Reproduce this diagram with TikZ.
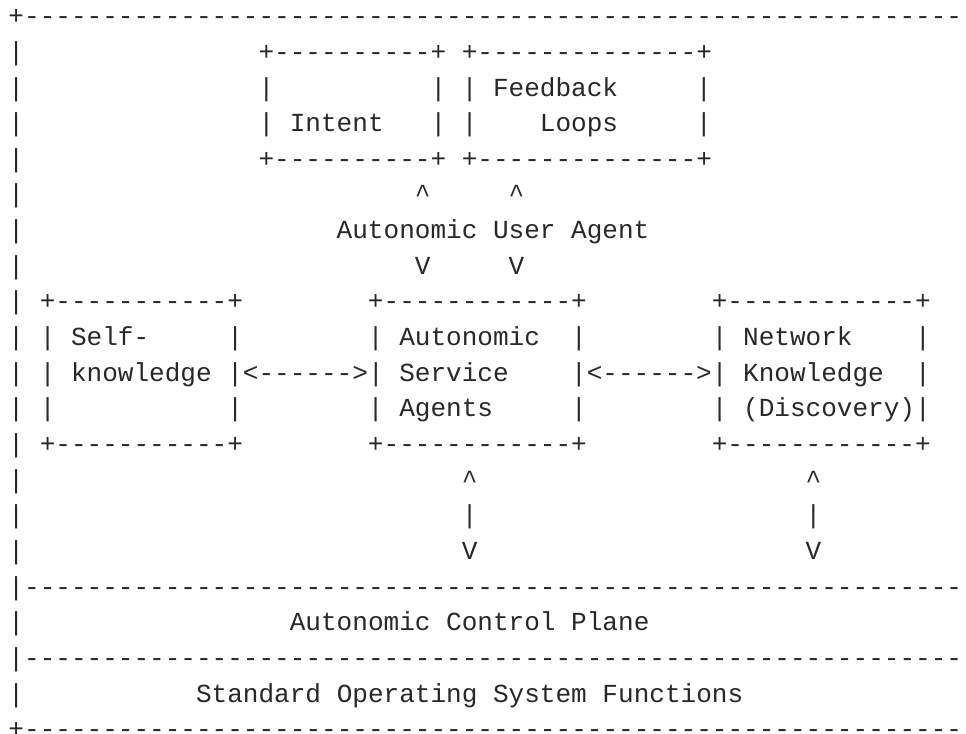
\documentclass[tikz,border=0pt]{standalone}
\usepackage{fontspec}
\setmonofont{Liberation Mono}
\definecolor{ink}{RGB}{40,40,40}
\newcommand\ascii[4]{\node[txt] (#1) at ({6.375+#2*11.7225},{-18.5625-#3*26.7375}) {#4};}
\begin{document}
\begin{tikzpicture}[x=1pt,y=1pt,
  txt/.style={anchor=base west, inner sep=0pt, outer sep=0pt,
    font=\ttfamily\fontsize{19.54pt}{19.54pt}\selectfont, text=ink}]
\useasboundingbox[fill=white] (0,0) rectangle (724.5,-550.5);
% outer frame and layer separators
\ascii{topline}{0}{0}{+------------------------------------------------------------}
\ascii{sepA}{0}{16}{|------------------------------------------------------------}
\ascii{sepB}{0}{18}{|------------------------------------------------------------}
\ascii{botline}{0}{20}{+------------------------------------------------------------}
\foreach \r in {1,...,15,17,19} {\ascii{left\r}{0}{\r}{|}}
% Intent and Feedback Loops
\ascii{intentT}{16}{1}{+----------+}
\ascii{fbT}{29}{1}{+--------------+}
\ascii{intentL2}{16}{2}{|}
\ascii{intentR2}{27}{2}{|}
\ascii{fbL2}{29}{2}{|}
\ascii{fbtext}{31}{2}{Feedback}
\ascii{fbR2}{44}{2}{|}
\ascii{intentL3}{16}{3}{|}
\ascii{intenttext}{18}{3}{Intent}
\ascii{intentR3}{27}{3}{|}
\ascii{fbL3}{29}{3}{|}
\ascii{loopstext}{34}{3}{Loops}
\ascii{fbR3}{44}{3}{|}
\ascii{intentB}{16}{4}{+----------+}
\ascii{fbB}{29}{4}{+--------------+}
% Autonomic User Agent
\ascii{upA}{26}{5}{\textasciicircum}
\ascii{upB}{32}{5}{\textasciicircum}
\ascii{aua}{21}{6}{Autonomic User Agent}
\ascii{dnA}{26}{7}{V}
\ascii{dnB}{32}{7}{V}
% three boxes
\ascii{selfT}{2}{8}{+-----------+}
\ascii{asaT}{23}{8}{+------------+}
\ascii{netT}{45}{8}{+------------+}
\ascii{selfL9}{2}{9}{|}
\ascii{selftext}{4}{9}{Self-}
\ascii{selfR9}{14}{9}{|}
\ascii{asaL9}{23}{9}{|}
\ascii{asatext}{25}{9}{Autonomic}
\ascii{asaR9}{36}{9}{|}
\ascii{netL9}{45}{9}{|}
\ascii{nettext}{47}{9}{Network}
\ascii{netR9}{58}{9}{|}
\ascii{selfL10}{2}{10}{|}
\ascii{knowtext}{4}{10}{knowledge}
\ascii{linkA}{14}{10}{|<------>|}
\ascii{servtext}{25}{10}{Service}
\ascii{linkB}{36}{10}{|<------>|}
\ascii{nkntext}{47}{10}{Knowledge}
\ascii{netR10}{58}{10}{|}
\ascii{selfL11}{2}{11}{|}
\ascii{selfR11}{14}{11}{|}
\ascii{asaL11}{23}{11}{|}
\ascii{agtext}{25}{11}{Agents}
\ascii{asaR11}{36}{11}{|}
\ascii{netL11}{45}{11}{|}
\ascii{disctext}{47}{11}{(Discovery)|}
\ascii{selfB}{2}{12}{+-----------+}
\ascii{asaB}{23}{12}{+------------+}
\ascii{netB}{45}{12}{+------------+}
% vertical links to control plane
\ascii{upC}{29}{13}{\textasciicircum}
\ascii{upD}{51}{13}{\textasciicircum}
\ascii{barC}{29}{14}{|}
\ascii{barD}{51}{14}{|}
\ascii{dnC}{29}{15}{V}
\ascii{dnD}{51}{15}{V}
% layers
\ascii{acp}{18}{17}{Autonomic Control Plane}
\ascii{sosf}{12}{19}{Standard Operating System Functions}
\end{tikzpicture}
\end{document}
